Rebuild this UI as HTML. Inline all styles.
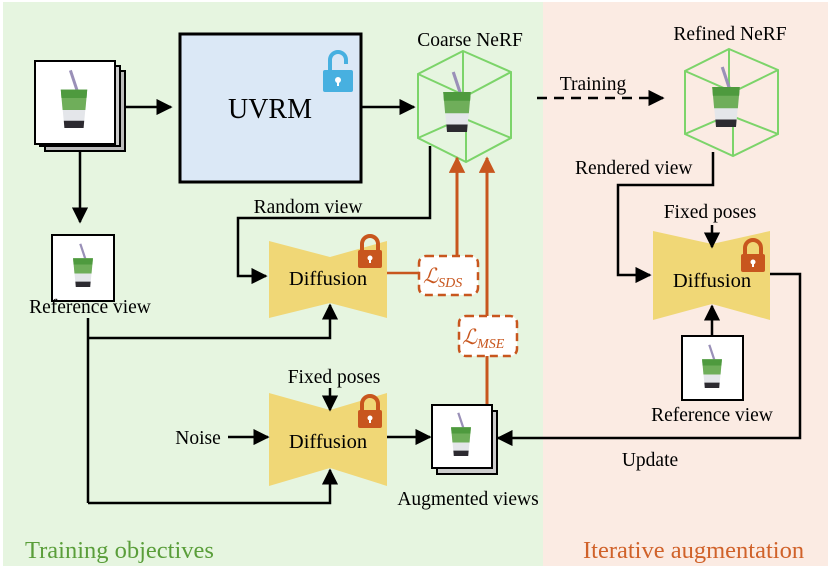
<!DOCTYPE html>
<html><head><meta charset="utf-8"><style>body{margin:0}svg{display:block}text{font-family:"Liberation Serif",serif;fill:#000}</style></head><body>
<svg width="830" height="567" viewBox="0 0 830 567" xmlns="http://www.w3.org/2000/svg">
<defs>
<marker id="a" viewBox="0 0 10 10" refX="9" refY="5" markerWidth="6.5" markerHeight="6.5" orient="auto-start-reverse"><path d="M0,0L10,5L0,10z" fill="#000"/></marker>
<marker id="o" viewBox="0 0 10 10" refX="9" refY="5" markerWidth="5.5" markerHeight="5.5" orient="auto"><path d="M0,0L10,5L0,10z" fill="#c8561e"/></marker>
<g id="cup">
<path d="M-3,-28L3,-10" stroke="#9a90b8" stroke-width="2.5"/>
<path d="M-11,-12L11,-12L8,20L-8,20z" fill="#e4e6ea"/>
<path d="M-11,-12L11,-12L9.5,5L-9.5,5z" fill="#6fae5a"/>
<path d="M-11,-12L11,-12L10.5,-5L-10.5,-5z" fill="#4e9a3e"/>
<path d="M-8.5,14L8.5,14L8,20L-8,20z" fill="#2c2a30"/>
</g>
<g id="lock"><rect x="-12" y="-2" width="24" height="18" rx="2" fill="#c8561e"/><path d="M-8,-2v-6a8,8 0 0 1 16,0v6" fill="none" stroke="#c8561e" stroke-width="4"/><circle cx="0" cy="6" r="2.5" fill="#fff"/><rect x="-1" y="6" width="2" height="5" fill="#fff"/></g>
</defs>
<rect x="0" y="0" width="830" height="567" fill="#fff"/>
<rect x="3" y="2" width="540" height="564" fill="#e6f5e0"/>
<rect x="543" y="2" width="285" height="564" fill="#fbebe3"/>

<rect x="45" y="71" width="80" height="80" fill="#bbb" stroke="#000" stroke-width="2"/>
<rect x="40" y="66" width="80" height="80" fill="#ccc" stroke="#000" stroke-width="2"/>
<rect x="35" y="61" width="80" height="83" fill="#fff" stroke="#000" stroke-width="2"/>
<use href="#cup" transform="translate(74,104) scale(1.2)"/>
<line x1="125" y1="107" x2="171" y2="107" stroke="#000" stroke-width="2.5" marker-end="url(#a)"/>
<rect x="180" y="34" width="181" height="148" fill="#dbe8f6" stroke="#000" stroke-width="3"/>
<text x="270" y="118" font-size="28" text-anchor="middle">UVRM</text>
<g transform="translate(338,72)"><rect x="-15" y="-2" width="30" height="22" rx="2" fill="#47b0e0"/><path d="M-8,-2v-10a8,8 0 0 1 16,0v4" fill="none" stroke="#47b0e0" stroke-width="4"/><circle cx="0" cy="8" r="3" fill="#fff"/><rect x="-1" y="8" width="2" height="6" fill="#fff"/></g>
<line x1="362" y1="107" x2="414" y2="107" stroke="#000" stroke-width="2.5" marker-end="url(#a)"/>

<text x="470" y="46" font-size="19.5" text-anchor="middle">Coarse NeRF</text>
<g fill="none" stroke="#7cd46a" stroke-width="2">
<path d="M463,51L511,72L511,138L466,162L418,138L418,74z"/>
<path d="M418,74L466,96L511,72M466,96L466,162"/>
<path d="M418,138L463,118L511,138M463,51L463,118"/>
</g>
<use href="#cup" transform="translate(457,107) scale(1.25)"/>
<line x1="537" y1="98" x2="663" y2="98" stroke="#000" stroke-width="2.5" stroke-dasharray="10,7" marker-end="url(#a)"/>
<text x="593" y="90" font-size="19.5" text-anchor="middle">Training</text>
<text x="730" y="40" font-size="19.5" text-anchor="middle">Refined NeRF</text>
<g fill="none" stroke="#7cd46a" stroke-width="2">
<path d="M729,49L778,70L778,134L733,156L685,134L685,71z"/>
<path d="M685,71L733,92L778,70M733,92L733,156"/>
<path d="M685,134L729,115L778,134M729,49L729,115"/>
</g>
<use href="#cup" transform="translate(726,102) scale(1.25)"/>
<text x="575" y="174" font-size="19.5">Rendered view</text>
<polyline points="713,152 713,185 618,185 618,275 650,275" fill="none" stroke="#000" stroke-width="2.5" marker-end="url(#a)"/>
<path d="M653,231L712,244L770,231L770,320L712,304L653,320z" fill="#f0d776"/>
<text x="712" y="287" font-size="20.5" text-anchor="middle">Diffusion</text>
<use href="#lock" transform="translate(753,256)"/>
<text x="710" y="218" font-size="19.5" text-anchor="middle">Fixed poses</text>
<line x1="712" y1="225" x2="712" y2="247" stroke="#000" stroke-width="2.5" marker-end="url(#a)"/>
<rect x="682" y="336" width="61" height="64" fill="#fff" stroke="#000" stroke-width="2"/>
<use href="#cup" transform="translate(712,370) scale(0.9)"/>
<line x1="712" y1="336" x2="712" y2="306" stroke="#000" stroke-width="2.5" marker-end="url(#a)"/>
<text x="712" y="421" font-size="19.5" text-anchor="middle">Reference view</text>
<polyline points="770,274 800,274 800,438 498,438" fill="none" stroke="#000" stroke-width="2.5" marker-end="url(#a)"/>
<text x="650" y="466" font-size="19.5" text-anchor="middle">Update</text>

<line x1="80" y1="150" x2="80" y2="222" stroke="#000" stroke-width="2.5" marker-end="url(#a)"/>
<rect x="52" y="235" width="62" height="66" fill="#fff" stroke="#000" stroke-width="2"/>
<use href="#cup" transform="translate(83,269) scale(0.9)"/>
<text x="90" y="313" font-size="19.5" text-anchor="middle">Reference view</text>
<polyline points="430,146 430,218 238,218 238,276 266,276" fill="none" stroke="#000" stroke-width="2.5" marker-end="url(#a)"/>
<text x="308" y="213" font-size="19.5" text-anchor="middle">Random view</text>
<path d="M269,241L330,257L387,241L387,318L330,303L269,318z" fill="#f0d776"/>
<text x="328" y="285" font-size="20.5" text-anchor="middle">Diffusion</text>
<use href="#lock" transform="translate(370,252)"/>
<polyline points="88,338 330,338 330,305" fill="none" stroke="#000" stroke-width="2.5" marker-end="url(#a)"/>
<line x1="88" y1="318" x2="88" y2="503" stroke="#000" stroke-width="2.5"/>
<line x1="387" y1="273" x2="419" y2="273" stroke="#c8561e" stroke-width="2.5"/>
<line x1="457" y1="256" x2="457" y2="158" stroke="#c8561e" stroke-width="3" marker-end="url(#o)"/>
<line x1="487" y1="405" x2="487" y2="158" stroke="#c8561e" stroke-width="3" marker-end="url(#o)"/>
<rect x="419" y="256" width="59" height="39" rx="7" fill="#fff" stroke="#c8561e" stroke-width="2.5" stroke-dasharray="8,5"/>
<text x="423" y="283" font-size="21" font-style="italic" style="fill:#c8561e">ℒ<tspan font-size="14" dy="4">SDS</tspan></text>
<rect x="459" y="316" width="58" height="40" rx="7" fill="#fff" stroke="#c8561e" stroke-width="2.5" stroke-dasharray="8,5"/>
<text x="462" y="344" font-size="21" font-style="italic" style="fill:#c8561e">ℒ<tspan font-size="14" dy="4">MSE</tspan></text>
<path d="M269,393L330,410L387,393L387,486L330,468L269,486z" fill="#f0d776"/>
<text x="328" y="448" font-size="20.5" text-anchor="middle">Diffusion</text>
<use href="#lock" transform="translate(370,412)"/>
<text x="334" y="383" font-size="19.5" text-anchor="middle">Fixed poses</text>
<line x1="330" y1="388" x2="330" y2="410" stroke="#000" stroke-width="2.5" marker-end="url(#a)"/>
<text x="198" y="444" font-size="19.5" text-anchor="middle">Noise</text>
<line x1="228" y1="437" x2="268" y2="437" stroke="#000" stroke-width="2.5" marker-end="url(#a)"/>
<line x1="387" y1="437" x2="430" y2="437" stroke="#000" stroke-width="2.5" marker-end="url(#a)"/>
<polyline points="88,503 330,503 330,470" fill="none" stroke="#000" stroke-width="2.5" marker-end="url(#a)"/>
<rect x="437" y="411" width="60" height="63" fill="#ccc" stroke="#000" stroke-width="2"/>
<rect x="432" y="405" width="60" height="63" fill="#fff" stroke="#000" stroke-width="2"/>
<use href="#cup" transform="translate(461,438) scale(0.9)"/>
<text x="468" y="505" font-size="19.5" text-anchor="middle">Augmented views</text>

<text x="25" y="558" font-size="24.5" style="fill:#5a9e3a">Training objectives</text>
<text x="583" y="558" font-size="24.5" style="fill:#d0622a">Iterative augmentation</text>
</svg>
</body></html>
